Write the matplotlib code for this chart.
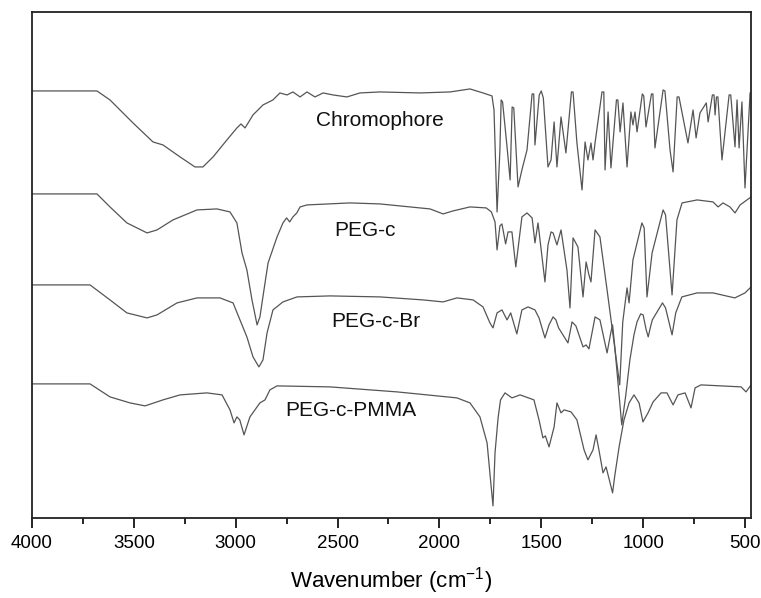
import matplotlib
matplotlib.use("Agg")
import matplotlib.pyplot as plt
from matplotlib.ticker import MultipleLocator, NullLocator

plt.rcParams['font.family'] = ['Liberation Sans', 'DejaVu Sans']
plt.rcParams['mathtext.fontset'] = 'custom'
plt.rcParams['mathtext.rm'] = 'Liberation Sans'
plt.rcParams['mathtext.it'] = 'Liberation Sans'

# FTIR spectra: wavenumber (cm-1) and transmittance (a.u., stacked)
chromo_wn = [4000, 3681, 3617, 3504, 3406, 3357, 3273, 3200, 3161, 3111, 3043, 2994, 2974, 2954,
             2915, 2866, 2817, 2783, 2748, 2719, 2684, 2650, 2611, 2571, 2522, 2454, 2390, 2292,
             2095, 1948, 1850, 1786, 1742, 1732, 1717, 1703, 1697, 1690, 1668, 1653, 1643, 1635,
             1614, 1595, 1570, 1545, 1537, 1531, 1510, 1500, 1490, 1467, 1452, 1437, 1423, 1403,
             1379, 1352, 1344, 1325, 1300, 1285, 1271, 1256, 1246, 1236, 1202, 1193, 1187, 1172,
             1158, 1131, 1124, 1113, 1099, 1079, 1060, 1050, 1040, 1030, 1004, 997, 986, 959, 952,
             942, 902, 893, 868, 853, 833, 824, 780, 755, 740, 721, 690, 681, 660, 652, 647, 640,
             633, 613, 578, 570, 549, 539, 529, 515, 500, 475]
chromo_t = [427, 427, 418, 395, 376, 373, 361, 351, 351, 361, 378, 390, 394, 390,
            403, 413, 418, 425, 423, 426, 421, 426, 421, 425, 423, 421, 425, 426,
            425, 426, 429, 425, 422, 408, 306, 368, 418, 416, 371, 338, 411, 410,
            331, 348, 368, 424, 424, 373, 423, 427, 420, 351, 358, 396, 351, 401,
            365, 426, 426, 375, 328, 376, 358, 375, 358, 375, 426, 426, 348, 406,
            350, 418, 418, 386, 415, 351, 406, 393, 406, 386, 424, 422, 391, 424, 424,
            370, 428, 427, 368, 346, 421, 421, 375, 408, 380, 405, 415, 396, 423, 423, 403, 421,
            421, 358, 423, 423, 371, 418, 370, 416, 330, 425]

pegc_wn = [4000, 3681, 3617, 3534, 3435, 3386, 3308, 3190, 3092, 3028, 2994, 2969, 2945, 2920,
           2895, 2881, 2856, 2841, 2797, 2768, 2750, 2735, 2719, 2700, 2684, 2650, 2439, 2292,
           2046, 1982, 1933, 1850, 1770, 1745, 1727, 1717, 1703, 1693, 1675, 1663, 1644, 1625,
           1595, 1570, 1545, 1531, 1516, 1482, 1467, 1452, 1442, 1423, 1403, 1374, 1359, 1344,
           1320, 1295, 1280, 1266, 1256, 1236, 1212, 1177, 1153, 1115, 1100, 1079, 1069, 1050,
           1006, 995, 981, 956, 902, 890, 858, 834, 809, 735, 657, 632, 608, 574, 549, 524, 470]
pegc_t = [324, 324, 311, 295, 285, 288, 298, 308, 309, 306, 295, 265, 248, 218,
          193, 201, 235, 255, 281, 295, 300, 296, 301, 305, 311, 313, 315, 314,
          309, 304, 307, 311, 310, 306, 296, 268, 292, 294, 274, 286, 286, 251,
          301, 305, 300, 275, 295, 236, 273, 286, 285, 273, 288, 248, 210, 280,
          271, 221, 256, 243, 236, 288, 281, 228, 191, 133, 196, 230, 215, 258,
          295, 290, 221, 265, 308, 303, 223, 298, 315, 318, 316, 311, 315, 311, 305, 313, 321]

pegbr_wn = [4000, 3715, 3617, 3534, 3435, 3386, 3288, 3190, 3077, 3013, 2979, 2945, 2915, 2886,
            2866, 2846, 2817, 2768, 2699, 2537, 2292, 2081, 1982, 1914, 1835, 1786, 1752, 1737,
            1717, 1693, 1668, 1650, 1620, 1595, 1565, 1531, 1511, 1482, 1462, 1442, 1428, 1415,
            1369, 1349, 1330, 1295, 1280, 1266, 1236, 1212, 1177, 1158, 1150, 1140, 1105, 1085,
            1065, 1045, 1030, 1012, 1000, 985, 975, 965, 955, 905, 890, 858, 840, 810, 735, 657,
            550, 500, 470]
pegbr_t = [233, 233, 218, 205, 200, 203, 215, 220, 220, 215, 198, 181, 161, 151,
           158, 185, 208, 216, 221, 222, 221, 218, 216, 220, 218, 211, 195, 190,
           205, 208, 198, 205, 184, 208, 211, 208, 200, 180, 193, 201, 198, 190,
           175, 196, 192, 171, 173, 169, 201, 198, 165, 186, 193, 173, 93, 123,
           158, 183, 196, 204, 203, 188, 181, 190, 198, 215, 210, 183, 205, 221, 225, 225,
           220, 225, 231]

pmma_wn = [4000, 3715, 3617, 3519, 3445, 3357, 3273, 3141, 3067, 3028, 3008, 2994, 2980, 2959,
           2930, 2881, 2856, 2832, 2797, 2537, 2208, 1914, 1850, 1801, 1766, 1750, 1737, 1727,
           1712, 1700, 1678, 1644, 1604, 1536, 1511, 1492, 1480, 1462, 1437, 1423, 1403, 1388,
           1354, 1325, 1290, 1271, 1246, 1231, 1217, 1197, 1182, 1150, 1140, 1118, 1094, 1069,
           1045, 1020, 1001, 976, 951, 912, 883, 853, 829, 794, 765, 745, 716, 519, 495, 470]
pmma_t = [134, 134, 121, 115, 112, 118, 123, 125, 123, 108, 95, 101, 98, 83,
          101, 115, 118, 128, 132, 131, 126, 120, 115, 101, 75, 40, 12, 65,
          100, 118, 125, 120, 123, 118, 98, 80, 82, 71, 91, 115, 105, 108,
          106, 98, 68, 58, 68, 83, 68, 45, 51, 25, 41, 71, 98, 115,
          123, 115, 96, 105, 116, 125, 125, 113, 123, 125, 110, 130, 133, 131, 126, 133]

labels = ['Chromophore', 'PEG-c', 'PEG-c-Br', 'PEG-c-PMMA']
label_wn = [2292, 2365, 2311, 2434]
label_t = [397, 287, 196, 107]

fig = plt.figure(figsize=(7.61, 5.98), dpi=100)
ax = fig.add_axes([0.042, 0.134, 0.945, 0.846])

for wn, t in [(chromo_wn, chromo_t), (pegc_wn, pegc_t), (pegbr_wn, pegbr_t), (pmma_wn, pmma_t)]:
    ax.plot(wn, t, color='#555555', lw=0.9)

for name, x, y in zip(labels, label_wn, label_t):
    ax.text(x, y, name, fontsize=15, ha='center', va='center', color='#111111')

ax.set_xlim(4000, 470)
ax.set_ylim(0, 506)
ax.xaxis.set_major_locator(MultipleLocator(500))
ax.xaxis.set_minor_locator(MultipleLocator(250))
ax.yaxis.set_major_locator(NullLocator())
ax.tick_params(axis='x', which='major', direction='out', length=7, width=1.2, labelsize=13.5, pad=5)
ax.tick_params(axis='x', which='minor', direction='out', length=4, width=1.2)
for s in ax.spines.values():
    s.set_linewidth(1.3)
    s.set_color('#222222')

ax.set_xlabel('Wavenumber (cm$^{-1}$)', fontsize=16, labelpad=10)

fig.savefig('out.png', dpi=100)
